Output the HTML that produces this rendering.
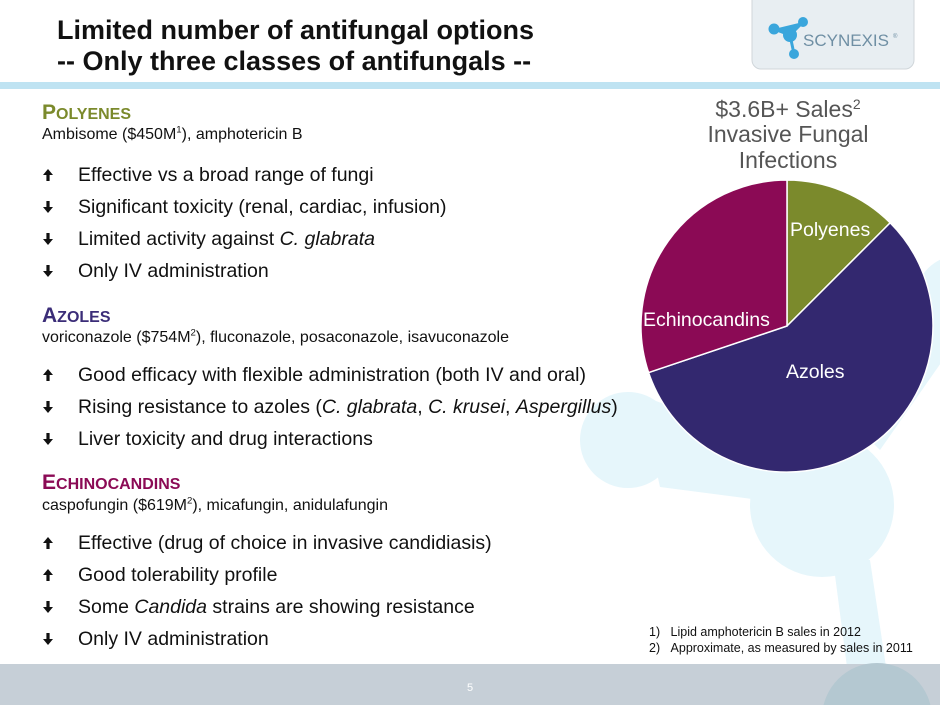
<!DOCTYPE html>
<html><head><meta charset="utf-8"><style>
body{margin:0;width:940px;height:705px;overflow:hidden;background:#fff;font-family:"Liberation Sans",Arial,sans-serif;position:relative}
.a{position:absolute;white-space:nowrap}
.t{left:57px;font-size:27px;font-weight:bold;color:#111;line-height:32px}
.h{left:42px;font-size:21px;font-weight:bold}
.h small{font-size:16px}
.s{left:42px;font-size:16px;color:#111}
.b{left:42px;font-size:19.5px;color:#111}
.b svg{display:inline-block;width:36px;height:14px;vertical-align:-1px}
sup{font-size:60%;line-height:0}
</style></head><body>
<svg width="0" height="0" style="position:absolute"><defs>
<g id="up"><path d="M6 1 L11 7 L7.6 7 L7.6 13 L4.4 13 L4.4 7 L1 7Z" fill="#111"/></g>
<g id="dn"><path d="M6 13 L11 7 L7.6 7 L7.6 1 L4.4 1 L4.4 7 L1 7Z" fill="#111"/></g>
</defs></svg>
<svg class="a" style="left:0;top:0" width="940" height="705">
<g fill="#e6f6fb">
<circle cx="628" cy="440" r="48"/>
<path d="M640 395 L760 440 L760 500 L660 487Z"/>
<circle cx="822" cy="505" r="72"/>
<path d="M833 560 L870 560 L888 680 L850 690Z"/>
<circle cx="960" cy="300" r="45"/>
<path d="M930 330 L950 350 L880 450 L860 430Z"/>
</g>
<rect x="0" y="664" width="940" height="41" fill="#c6cfd7"/>
<circle cx="877" cy="718" r="55" fill="#b4c8d1"/>
<rect x="0" y="82" width="940" height="7" fill="#bfe3f2"/>
<rect x="752" y="-10" width="162" height="79" rx="9" fill="#e8eef2" stroke="#d0d6da"/>
<g fill="#3aa6dc"><circle cx="774" cy="29" r="5.5"/><circle cx="790" cy="35" r="7"/><circle cx="803" cy="22" r="5"/><circle cx="794" cy="54" r="5"/>
<path d="M774 29L790 35L803 22M790 35L794 54" stroke="#3aa6dc" stroke-width="3"/></g>
<text x="803" y="46" font-size="17" fill="#6f8fa4" font-family="Liberation Sans">SCYNEXIS</text>
<text x="893" y="38" font-size="6" fill="#6f8fa4">®</text>
<path d="M787 326 L787 180 A146 146 0 0 1 890.2 222.8Z" fill="#7b8a2c" stroke="#fff" stroke-width="1.5"/>
<path d="M787 326 L890.2 222.8 A146 146 0 1 1 648.6 372.6Z" fill="#33286f" stroke="#fff" stroke-width="1.5"/>
<path d="M787 326 L648.6 372.6 A146 146 0 0 1 787 180Z" fill="#8b0a55" stroke="#fff" stroke-width="1.5"/>
<g font-size="19.5" fill="#fff" font-family="Liberation Sans"><text x="790" y="236">Polyenes</text><text x="643" y="326">Echinocandins</text><text x="786" y="378">Azoles</text></g>
<g font-size="23" fill="#555" text-anchor="middle" font-family="Liberation Sans"><text x="788" y="117">$3.6B+ Sales<tspan font-size="14" dy="-8">2</tspan></text><text x="788" y="142" dy="0">Invasive Fungal</text><text x="788" y="168">Infections</text></g>
<text x="470" y="691" font-size="11" fill="#fff" text-anchor="middle">5</text>
</svg>
<div class="a t" style="top:14px">Limited number of antifungal options</div>
<div class="a t" style="top:45px">-- Only three classes of antifungals --</div>
<div class="a h" style="top:101px;color:#7b8a2c">P<small>OLYENES</small></div>
<div class="a s" style="top:126px">Ambisome ($450M<sup>1</sup>), amphotericin B</div>
<div class="a b" style="top:164px"><svg><use href="#up"/></svg>Effective vs a broad range of fungi</div>
<div class="a b" style="top:196px"><svg><use href="#dn"/></svg>Significant toxicity (renal, cardiac, infusion)</div>
<div class="a b" style="top:228px"><svg><use href="#dn"/></svg>Limited activity against <i>C. glabrata</i></div>
<div class="a b" style="top:260px"><svg><use href="#dn"/></svg>Only IV administration</div>
<div class="a h" style="top:304px;color:#3b2d78">A<small>ZOLES</small></div>
<div class="a s" style="top:329px">voriconazole ($754M<sup>2</sup>), fluconazole, posaconazole, isavuconazole</div>
<div class="a b" style="top:364px"><svg><use href="#up"/></svg>Good efficacy with flexible administration (both IV and oral)</div>
<div class="a b" style="top:396px"><svg><use href="#dn"/></svg>Rising resistance to azoles (<i>C. glabrata</i>, <i>C. krusei</i>, <i>Aspergillus</i>)</div>
<div class="a b" style="top:428px"><svg><use href="#dn"/></svg>Liver toxicity and drug interactions</div>
<div class="a h" style="top:471px;color:#8b0a55">E<small>CHINOCANDINS</small></div>
<div class="a s" style="top:497px">caspofungin ($619M<sup>2</sup>), micafungin, anidulafungin</div>
<div class="a b" style="top:532px"><svg><use href="#up"/></svg>Effective (drug of choice in invasive candidiasis)</div>
<div class="a b" style="top:564px"><svg><use href="#up"/></svg>Good tolerability profile</div>
<div class="a b" style="top:596px"><svg><use href="#dn"/></svg>Some <i>Candida</i> strains are showing resistance</div>
<div class="a b" style="top:628px"><svg><use href="#dn"/></svg>Only IV administration</div>
<div class="a" style="left:649px;top:624px;font-size:12.5px;color:#111;line-height:16px">1)&nbsp;&nbsp;&nbsp;Lipid amphotericin B sales in 2012<br>2)&nbsp;&nbsp;&nbsp;Approximate, as measured by sales in 2011</div>
</body></html>
